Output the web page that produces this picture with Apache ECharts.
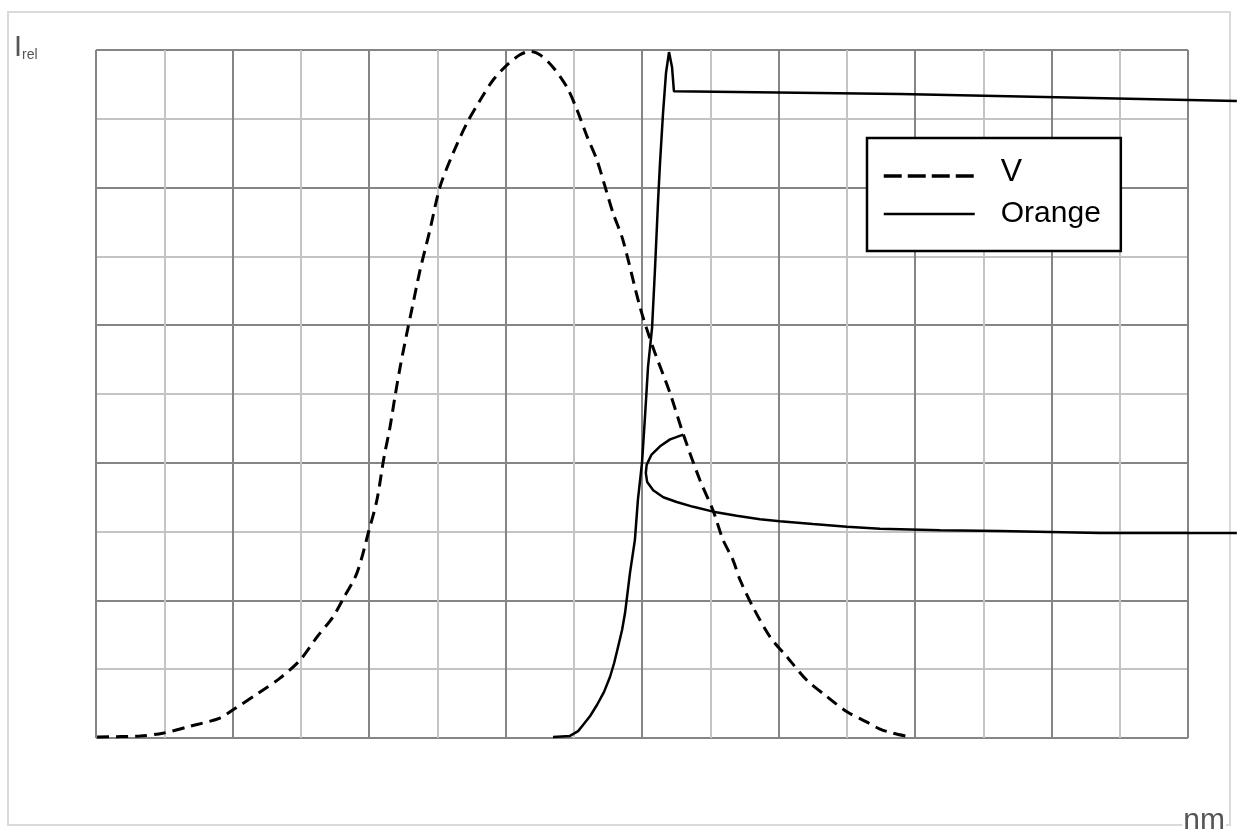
<!DOCTYPE html>
<html>
<head>
<meta charset="utf-8">
<script src="https://cdn.jsdelivr.net/npm/echarts@6/dist/echarts.min.js"></script>
<style>
html,body{margin:0;padding:0;background:#fff;}
#chart{width:1242px;height:835px;}
</style>
</head>
<body>
<div id="chart"></div>
<script>
// Wavelength (nm) and relative intensity
var vWave = [360.4,376.1,384.5,394.4,405.4,410.2,420.1,427.4,434.7,441.0,446.8,450.5,455.6,460.0,462.9,465.5,467.7,469.5,471.4,473.9,475.8,478.7,482.3,486.0,490.8,495.9,500.7,505.4,510.5,515.3,519.0,522.6,527.4,532.5,536.2,539.9,543.5,546.5,549.4,553.0,559.3,564.0,570.3,575.0,581.2,586.0,589.7,593.3,595.9,600.7,606.9,613.1,620.4,627.8,635.1,642.4,647.2,651.9,658.2];
var vRel = [0.0015,0.003,0.007,0.017,0.029,0.041,0.067,0.087,0.113,0.147,0.176,0.202,0.240,0.302,0.346,0.408,0.452,0.496,0.539,0.589,0.625,0.680,0.738,0.801,0.850,0.894,0.927,0.956,0.978,0.993,0.998,0.993,0.975,0.946,0.913,0.874,0.840,0.801,0.763,0.724,0.626,0.568,0.501,0.443,0.375,0.331,0.288,0.259,0.230,0.190,0.147,0.118,0.084,0.060,0.038,0.023,0.013,0.007,0.0015];

// Orange: first trace (rise, peak, plateau), then a second trace after a break
var orangeWave1 = [527.4,533.6,536.6,538.4,541.0,543.5,546.1,548.3,549.8,551.2,552.7,553.8,555.6,557.4,558.5,560.0,561.1,562.2,563.7,564.8,565.9,566.6,567.7,568.8,569.9,571.0,571.7,654.5,777.9];
var orangeRel1 = [0.0015,0.003,0.010,0.019,0.032,0.048,0.067,0.089,0.109,0.132,0.157,0.182,0.240,0.288,0.346,0.400,0.467,0.539,0.597,0.685,0.782,0.836,0.908,0.967,0.997,0.975,0.940,0.936,0.926];
var orangeWave2 = [575.1,570.3,566.6,563.5,561.7,561.4,561.9,564.1,567.8,572.7,578.8,586.1,594.7,603.2,610.5,622.6,635.1,647.2,669.2,691.1,727.8,777.9];
var orangeRel2 = [0.441,0.434,0.424,0.412,0.397,0.385,0.372,0.360,0.350,0.343,0.336,0.329,0.323,0.318,0.315,0.311,0.307,0.304,0.302,0.301,0.298,0.298];

var seriesNames = ['V', 'Orange'];
var yLabel = 'I';
var ySub = 'rel';
var xLabel = 'nm';

function pairs(xs, ys){ return xs.map(function(x,i){ return [x, ys[i]]; }); }
var orangeData = pairs(orangeWave1, orangeRel1).concat([[777.9, '-']]).concat(pairs(orangeWave2, orangeRel2));

// plot area geometry: 16 x 25 nm over 1092 px; the orange trace runs past the frame
var X_MIN = 360, X_MAX = 760, PLOT_W = 1092, WIDE_W = 1141;
var X_MAX_WIDE = X_MIN + (X_MAX - X_MIN) * WIDE_W / PLOT_W;

var FONT = 'Liberation Sans, Arial, sans-serif';
var hidden = {axisLine: {show: false}, axisTick: {show: false}, axisLabel: {show: false}, splitLine: {show: false}};
var chart = echarts.init(document.getElementById('chart'));
chart.setOption({
  backgroundColor: '#fff',
  animation: false,
  grid: [
    {left: 96, top: 50, width: PLOT_W, height: 688, containLabel: false},
    {left: 96, top: 50, width: WIDE_W, height: 688, containLabel: false}
  ],
  xAxis: [{
    type: 'value', min: X_MIN, max: X_MAX, interval: 50, gridIndex: 0,
    axisLine: {show: false}, axisTick: {show: false}, axisLabel: {show: false},
    splitLine: {show: true, lineStyle: {color: '#858585', width: 2}},
    minorTick: {show: false, splitNumber: 2},
    minorSplitLine: {show: true, lineStyle: {color: '#c4c4c4', width: 2}}
  }, Object.assign({type: 'value', min: X_MIN, max: X_MAX_WIDE, gridIndex: 1}, hidden)],
  yAxis: [{
    type: 'value', min: 0, max: 1, interval: 0.2, gridIndex: 0,
    axisLine: {show: false}, axisTick: {show: false}, axisLabel: {show: false},
    splitLine: {show: true, lineStyle: {color: '#858585', width: 2}},
    minorTick: {show: false, splitNumber: 2},
    minorSplitLine: {show: true, lineStyle: {color: '#c4c4c4', width: 2}}
  }, Object.assign({type: 'value', min: 0, max: 1, gridIndex: 1}, hidden)],
  legend: {
    orient: 'vertical', left: 867, top: 138,
    padding: [18, 20, 22, 15],
    itemGap: 3, itemWidth: 91, itemHeight: 14,
    borderColor: '#000', borderWidth: 2.5, borderRadius: 0,
    backgroundColor: '#fff',
    data: [
      {name: seriesNames[0], itemStyle: {color: 'transparent', borderWidth: 0, opacity: 0},
       lineStyle: {type: [18, 6], width: 3.5, color: '#000', opacity: 1}},
      {name: seriesNames[1], itemStyle: {color: 'transparent', borderWidth: 0, opacity: 0},
       lineStyle: {width: 2.5, color: '#000', opacity: 1}}
    ],
    formatter: function(n){ return n === 'V' ? '{v|' + n + '}' : '{o|' + n + '}'; },
    textStyle: {
      padding: [0, 0, 0, 21],
      rich: {
        v: {fontSize: 32, fontFamily: FONT, color: '#000', lineHeight: 38, padding: [0,0,8,0]},
        o: {fontSize: 30, fontFamily: FONT, color: '#000', lineHeight: 38}
      }
    }
  },
  series: [
    {
      name: seriesNames[0], type: 'line', data: pairs(vWave, vRel),
      xAxisIndex: 0, yAxisIndex: 0,
      symbol: 'none', showSymbol: false, smooth: 0.3, clip: false,
      itemStyle: {color: '#000'},
      lineStyle: {color: '#000', width: 3, type: [12, 7]},
      z: 3
    },
    {
      name: seriesNames[1], type: 'line', data: orangeData,
      xAxisIndex: 1, yAxisIndex: 1,
      symbol: 'none', showSymbol: false, smooth: false, clip: false, connectNulls: false,
      itemStyle: {color: '#000'},
      lineStyle: {color: '#000', width: 2.5},
      z: 4
    }
  ],
  graphic: [
    {type: 'rect', z: -1, silent: true, shape: {x: 8, y: 12, width: 1222, height: 813},
     style: {fill: 'none', stroke: '#dadada', lineWidth: 2}},
    {type: 'text', left: 14, top: 33, z: 10, style: {
      text: '{i|' + yLabel + '}{s|' + ySub + '}',
      rich: {
        i: {fontSize: 29, fontFamily: FONT, fill: '#555', verticalAlign: 'bottom', lineHeight: 30},
        s: {fontSize: 14, fontFamily: FONT, fill: '#555', verticalAlign: 'bottom', lineHeight: 24}
      }
    }},
    {type: 'text', right: 16, top: 806, z: 10, style: {
      text: xLabel, fontSize: 30, fontFamily: FONT, fill: '#555',
      backgroundColor: '#fff', padding: [0, 1, 0, 1]
    }}
  ]
});
</script>
</body>
</html>
